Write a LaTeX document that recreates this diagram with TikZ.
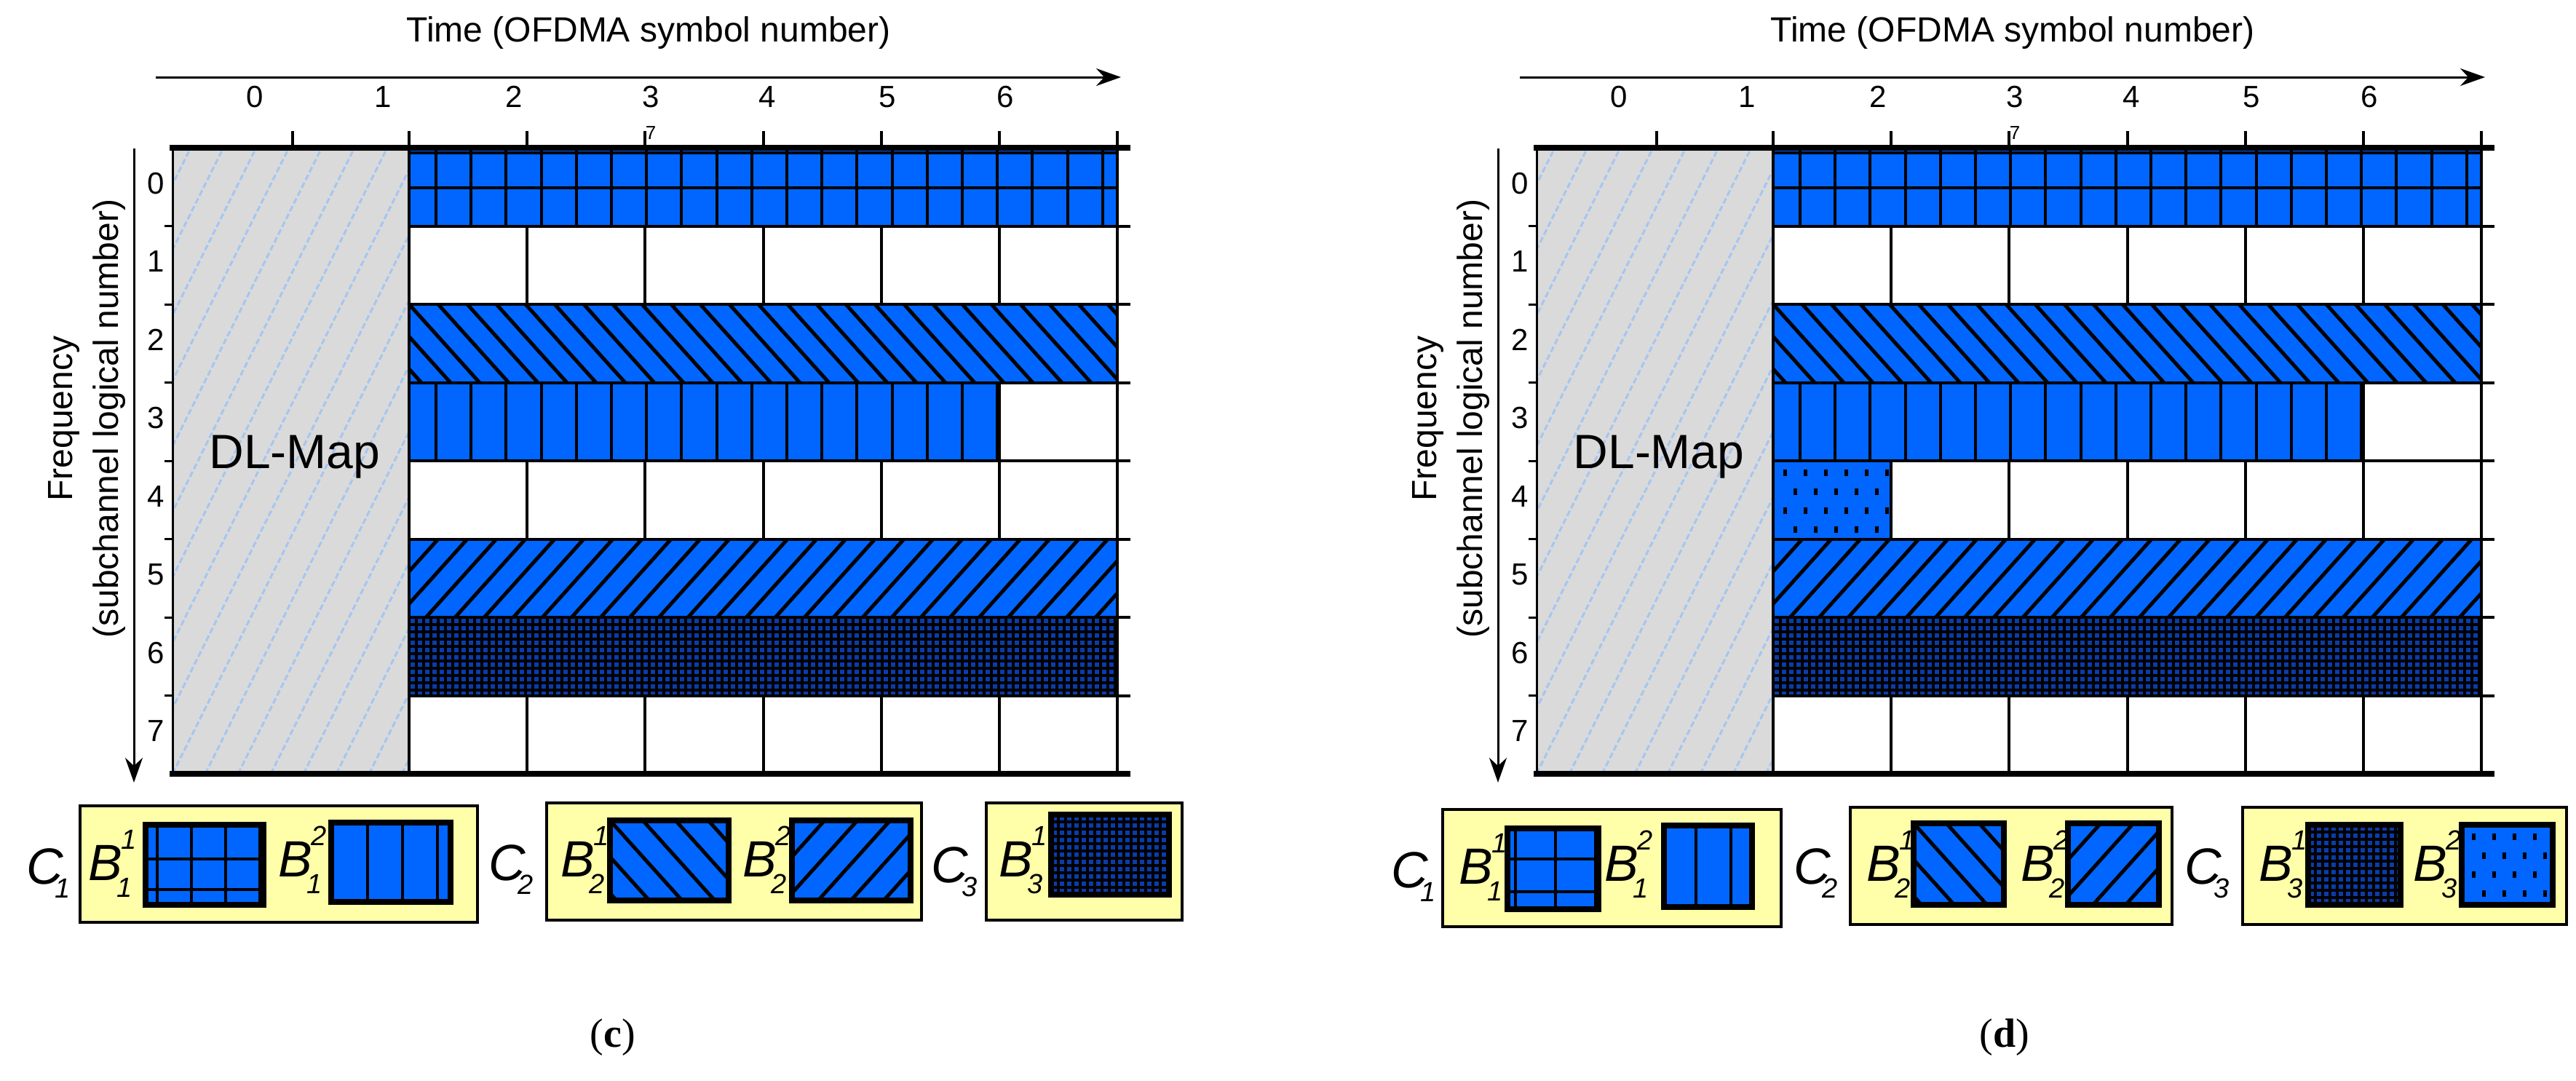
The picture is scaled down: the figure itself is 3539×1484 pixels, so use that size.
\documentclass[tikz,border=0pt]{standalone}
\usepackage{fontspec}
\setmainfont{Liberation Sans}
\newfontfamily\capfont{Liberation Serif}
\usetikzlibrary{arrows.meta}
\definecolor{bl}{RGB}{0,102,255}
\definecolor{dlg}{RGB}{218,218,218}
\definecolor{dll}{RGB}{165,198,240}
\definecolor{lgy}{RGB}{255,255,170}
\definecolor{xhb}{RGB}{10,60,170}
\tikzset{x=1pt,y=-1pt,
 pl/.style={line width=4pt},
 thk/.style={line width=8pt},
 lbl/.style={font=\fontsize{42}{42}\selectfont,inner sep=0},
 big/.style={font=\fontsize{48}{48}\selectfont,inner sep=0},
 cl/.style={font=\fontsize{70}{70}\selectfont\itshape,inner sep=0},
 cs/.style={font=\fontsize{38}{38}\selectfont\itshape,inner sep=0},
 legbox/.style={fill=lgy,draw=black,line width=4pt},
 arr/.style={line width=3pt,-{Stealth[length=34pt,width=24pt]}}}
\newcommand\blk[4]{\fill[bl] (#1,#2) rectangle (#3,#4);}
\newcommand\vlns[6]{\begin{scope}\clip (#1,#2) rectangle (#3,#4);
 \foreach \i in {0,...,40} \draw[pl] ({#5+#6*\i},#2) -- ({#5+#6*\i},#4);\end{scope}}
\newcommand\diag[6]{\begin{scope}\clip (#1,#2) rectangle (#3,#4);
 \foreach \i in {-12,...,40} \draw[line width=5pt] ({#1+#5*\i},#2) -- ({#1+#5*\i+#6*(#4-#2)},#4);\end{scope}}
\newcommand\xh[4]{\begin{scope}\clip (#1,#2) rectangle (#3,#4);\fill[xhb] (#1,#2) rectangle (#3,#4);
 \foreach \i in {0,...,100} \draw[line width=3.5pt] ({#1+10*\i},#2) -- ({#1+10*\i},#4);
 \foreach \i in {0,...,20} \draw[line width=3.5pt] (#1,{#2+10*\i}) -- (#3,{#2+10*\i});\end{scope}}
\newcommand\dtpat[4]{\begin{scope}\clip (#1,#2) rectangle (#3,#4);\fill[bl] (#1,#2) rectangle (#3,#4);
 \foreach \i in {0,...,12} \foreach \j in {0,...,8} \fill ({#1+14+28*\i+14*mod(\j,2)},{#2+12+26*\j}) rectangle ++(5,9);\end{scope}}
\newcommand\Blab[5]{\node[cl] (#5) at (#1,#2) {B};
 \node[cs] (#5s) at ({#1+32},{#2-32}) {#3};
 \node[cs] (#5b) at ({#1+26},{#2+34}) {#4};}
\begin{document}
\begin{tikzpicture}
\useasboundingbox (0,0) rectangle (3539,1484);
\foreach \sx/\d/\cp in {0/0/c,1874/1/d}{
\begin{scope}[xshift=\sx]
 \node[big] (time\d) at (891,45) {Time (OFDMA symbol number)};
 \coordinate (ta\d) at (214,106); \coordinate (tb\d) at (1540,106);
 \draw[arr] (ta\d) -- (tb\d);
 \foreach \n/\xx in {0/350,1/526,2/706,3/894,4/1054,5/1219,6/1381}
   \node[lbl] (tn\d\n) at (\xx,133) {\n};
 \foreach \xx in {402,562,724,886,1049,1211,1373,1535} \draw[pl] (\xx,180) -- (\xx,203);
 \node[font=\fontsize{26}{26}\selectfont,inner sep=0] (sev\d) at (894,183) {7};
 % DL map
 \begin{scope}\clip (237,203) rectangle (562,1063);
  \fill[dlg] (237,203) rectangle (562,1063);
  \foreach \i in {-12,...,8} \draw[dll,line width=3pt,dash pattern=on 8pt off 4pt] ({237+45*\i},1063) -- ({237+45*\i+430},203);
 \end{scope}
 \draw[line width=3pt] (237,203) rectangle (562,1063);
 \node[font=\fontsize{66}{66}\selectfont,inner sep=0] (dl\d) at (405,628) {DL-Map};
 % row 0
 \blk{562}{203}{1535}{310.5}
 \vlns{562}{203}{1535}{310.5}{599}{48.2}
 \draw[pl] (562,210) -- (1535,210); \draw[pl] (562,258) -- (1535,258);
 % row 2
 \blk{562}{418}{1535}{525.5}
 \diag{562}{418}{1535}{525.5}{40}{0.9}
 % row 3
 \blk{562}{525.5}{1373}{633}
 \vlns{562}{525.5}{1373}{633}{599}{48.2}
 % row 5
 \blk{562}{740.5}{1535}{848}
 \diag{562}{740.5}{1535}{848}{40}{-0.9}
 % row 6
 \xh{562}{848}{1535}{955.5}
 \ifnum\d=1 \dtpat{562}{633}{724}{740.5} \fi
 % white-cell column lines
 \foreach \ya/\yb in {310.5/418,633/740.5,955.5/1063}
   \foreach \xx in {724,886,1049,1211,1373} \draw[pl] (\xx,\ya) -- (\xx,\yb);
 \draw[pl] (1373,525.5) -- (1373,633);
 \draw[pl] (562,203) -- (562,1063); \draw[pl] (1535,203) -- (1535,1063);
 \foreach \yy in {310.5,418,525.5,633,740.5,848,955.5} \draw[pl] (562,\yy) -- (1553,\yy);
 \draw[thk] (233,203) -- (1553,203); \draw[thk] (233,1063) -- (1553,1063);
 % freq axis
 \coordinate (fa\d) at (184,204); \coordinate (fb\d) at (184,1075);
 \draw[arr] (fa\d) -- (fb\d);
 \foreach \yy in {310.5,418,525.5,633,740.5,848,955.5} \draw[line width=3pt] (226,\yy) -- (237,\yy);
 \foreach \n in {0,...,7} \node[lbl] (rn\d\n) at (214,{252+107.5*\n}) {\n};
 \node[big,rotate=90] (fq\d) at (88,575) {Frequency};
 \node[big,rotate=90] (sc\d) at (150,575) {(subchannel logical number)};
 \node[font=\capfont\fontsize{56}{56}\selectfont,inner sep=0] (cap\d) at ({842+38*\d},1425) {(\textbf{\cp})};
\end{scope}}
% legend c
\draw[legbox] (110,1107) rectangle (656,1267);
\draw[legbox] (751,1103) rectangle (1266,1264);
\draw[legbox] (1355,1103) rectangle (1624,1264);
\node[cl] (c1) at (62,1190) {C}; \node[cs] (c1s) at (86,1220) {1};
\Blab{145}{1185}{1}{1}{bc11}
\blk{200}{1133}{362}{1243}\vlns{200}{1133}{362}{1243}{216}{47}
\draw[pl] (200,1180) -- (362,1180); \draw[pl] (200,1222) -- (362,1222);
\draw[thk] (200,1133) rectangle (362,1243);
\Blab{406}{1180}{2}{1}{bc12}
\blk{455}{1130}{619}{1239}\vlns{455}{1130}{619}{1239}{505}{48}
\draw[thk] (455,1130) rectangle (619,1239);
\node[cl] (c2) at (697,1185) {C}; \node[cs] (c2s) at (722,1215) {2};
\Blab{794}{1180}{1}{2}{bc21}
\blk{838}{1127}{1001}{1237}\diag{838}{1127}{1001}{1237}{45}{0.9}
\draw[thk] (838,1127) rectangle (1001,1237);
\Blab{1044}{1180}{2}{2}{bc22}
\blk{1088}{1127}{1251}{1237}\diag{1088}{1127}{1251}{1237}{45}{-0.9}
\draw[thk] (1088,1127) rectangle (1251,1237);
\node[cl] (c3) at (1305,1188) {C}; \node[cs] (c3s) at (1332,1218) {3};
\Blab{1396}{1180}{1}{3}{bc31}
\xh{1444}{1119}{1606}{1229}
\draw[thk] (1444,1119) rectangle (1606,1229);
% legend d
\draw[legbox] (1982,1112) rectangle (2447,1273);
\draw[legbox] (2542,1109) rectangle (2984,1270);
\draw[legbox] (3081,1109) rectangle (3526,1270);
\node[cl] (d1) at (1937,1195) {C}; \node[cs] (d1s) at (1962,1225) {1};
\Blab{2028}{1190}{1}{1}{bd11}
\blk{2071}{1138}{2196}{1249}\vlns{2071}{1138}{2196}{1249}{2082}{55}
\draw[pl] (2071,1180) -- (2196,1180); \draw[pl] (2071,1225) -- (2196,1225);
\draw[thk] (2071,1138) rectangle (2196,1249);
\Blab{2228}{1186}{2}{1}{bd12}
\blk{2286}{1134}{2407}{1246}\vlns{2286}{1134}{2407}{1246}{2330}{48}
\draw[thk] (2286,1134) rectangle (2407,1246);
\node[cl] (d2) at (2490,1190) {C}; \node[cs] (d2s) at (2514,1220) {2};
\Blab{2588}{1186}{1}{2}{bd21}
\blk{2629}{1131}{2753}{1243}\diag{2629}{1131}{2753}{1243}{45}{0.9}
\draw[thk] (2629,1131) rectangle (2753,1243);
\Blab{2800}{1186}{2}{2}{bd22}
\blk{2841}{1131}{2966}{1243}\diag{2841}{1131}{2966}{1243}{45}{-0.9}
\draw[thk] (2841,1131) rectangle (2966,1243);
\node[cl] (d3) at (3027,1190) {C}; \node[cs] (d3s) at (3052,1220) {3};
\Blab{3127}{1186}{1}{3}{bd31}
\xh{3171}{1133}{3298}{1243}
\draw[thk] (3171,1133) rectangle (3298,1243);
\Blab{3339}{1186}{2}{3}{bd32}
\dtpat{3382}{1133}{3507}{1243}
\draw[thk] (3382,1133) rectangle (3507,1243);
\end{tikzpicture}
\end{document}
